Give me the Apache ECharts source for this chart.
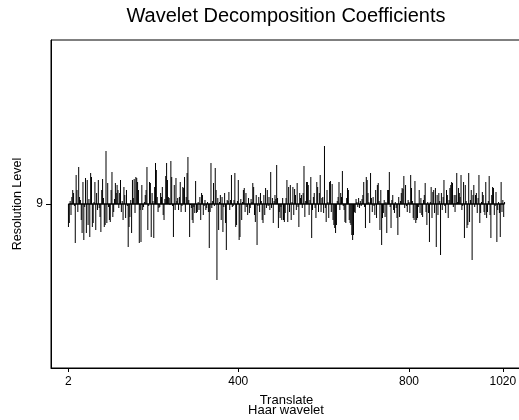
<!DOCTYPE html>
<html>
<head>
<meta charset="utf-8">
<script src="https://cdn.jsdelivr.net/npm/echarts@6/dist/echarts.min.js"></script>
<style>
  html, body { margin: 0; padding: 0; background: #fff; }
  #chart { width: 519px; height: 420px; }
</style>
</head>
<body>
<div id="chart"></div>
<script>
// level 9 Haar coefficients left to right (arbitrary units)
const coef1 = [-23,-19,3,-11,7,14,11,-2,-39,29, 14,-8,37,7,4,-16,-29,22,-36,-3,
  26,-29,24,-21,5,-33,31,27,-23,-19, 2,22,-26,11,-6,24,-4,-13,-28,14,
  25,6,-23,-21,53,-19,21,-3,-16,-18, 14,32,-13,-8,5,21,11,19,14,-4,
  11,24,-8,3,-16,17,9,-14,14,-2, -43,-23,-13,4,-29,24,6,25,-9,27, 26,22,14,-39,-6];
const coef2 = [-38,19,-6,-3,2,9,14,37,-26,-2, 22,21,-33,11,3,-34,17,41,34,7,
  -8,-4,-3,11,7,17,-11,-16,5,28, 41,24,7,6,-1,43,27,-2,-33,19,
  -6,26,3,6,-6,7,22,-8,-2,17, 16,27,-8,7,31,47,4,-33,-1,-4,
  -16,-19,-3,-9,23,-9,-8,2,-6,7, -16,11,9,-11,-2,4,-6,-4,2,-8, -44,-8,41,-4,3,21,-2];
const coef3 = [36,14,-76,6,-26,2,9,-16,7,-28, -3,11,-19,-46,4,3,12,-6,4,29,
  -3,-2,4,31,-23,-21,3,24,-36,-33, 5,-16,2,14,16,-8,11,-3,-11,6,
  -9,-4,5,2,21,17,-11,-18,9,-41, -2,7,-8,11,3,-16,-19,9,-11,16,
  -4,14,-2,7,-6,32,-4,6,-19,3, 9,5,39,6,-24,-8,-14,-3,-16,6, -16,-18,-9,6,24,-18,17];
const coef4 = [-8,19,-16,2,17,-11,15,9,-6,21, -3,-23,11,6,9,-4,11,38,-13,3,
  22,22,19,-11,4,27,-34,-6,7,11, -4,-14,22,17,-8,11,29,-8,6,7,
  -9,58,-4,-18,14,2,-14,22,23,-8, 20,-16,-21,-24,-29,-21,3,7,22,-6,
  11,7,33,-2,-6,-18,-19,6,16,14, -16,-19,-21,-31,-36,-31,-8,-9,5,2, -3,6,-4,3,-2,5];
const coef5 = [9,22,-3,-24,27,24,11,2,-19,31, 6,-8,7,-2,-11,14,-14,19,21,3,
  -26,14,-41,-14,-9,4,-13,2,-29,14, 14,32,-3,-24,4,9,-6,-9,2,-4,
  -14,-31,7,-13,3,11,16,15,28,-4, 19,-2,-8,4,2,-9,29,16,3,-14,
  -16,23,-19,-16,-14,-3,14,-9,6,-11, -13,4,9,21,-8,-21,2,-9,-38,2, 17,-14,12,14,-9,16,-43];
const coef6 = [9,-11,11,3,-51,11,-6,7,24,-2, -9,14,9,-14,4,16,19,22,21,-3,
  9,-8,9,31,2,16,11,7,29,-6, -2,22,-34,19,3,-24,-21,31,-18,4,
  14,-56,9,19,-3,9,11,-9,6,29, -19,-9,2,12,9,-8,-11,22,-14,-8,
  3,28,-11,-34,9,17,16,-11,-2,12, -38,-6,2,-9,-33,22,-8,4,-13,2];

const level = 9;
const levelScale = 1 / 164;   // coefficient units per resolution level
const xTicks = [2, 400, 800, 1020];
const yTicks = [9];

const coefs = [].concat(coef1, coef2, coef3, coef4, coef5, coef6);
// translate of coefficient k at level 9 is 2k
const points = coefs.map((c, i) => [2 * (i + 1), level + c * levelScale]);
const firstT = points[0][0], lastT = points[points.length - 1][0];

const font = 'Liberation Sans, Arial, Helvetica, sans-serif';

function renderItem(params, api) {
    const x = api.value(0);
    const p0 = api.coord([x, level]);
    const p1 = api.coord([x, api.value(1)]);
    return {
        type: 'line',
        shape: {x1: p0[0], y1: p0[1], x2: p1[0], y2: p1[1]},
        style: {stroke: '#000', lineWidth: 1}
    };
}

const chart = echarts.init(document.getElementById('chart'), null, {renderer: 'canvas'});
chart.setOption({
    animation: false,
    backgroundColor: '#fff',
    title: [{
        text: 'Wavelet Decomposition Coefficients',
        left: 286, top: 6, textAlign: 'center', padding: 0,
        textStyle: {fontFamily: font, fontSize: 20, fontWeight: 'normal', color: '#000'}
    }, {
        text: 'Haar wavelet',
        left: 286, top: 404, textAlign: 'center', padding: 0,
        textStyle: {fontFamily: font, fontSize: 13, fontWeight: 'normal', color: '#000'}
    }],
    grid: {
        left: 51, width: 471, top: 40, bottom: 52,
        outerBoundsMode: 'none', containLabel: false,
        show: true, borderColor: '#000', borderWidth: 1
    },
    xAxis: {
        type: 'value', min: -38.9, max: 1064.9,
        name: 'Translate', nameLocation: 'middle', nameGap: 26,
        nameTextStyle: {fontFamily: font, fontSize: 13, color: '#000'},
        axisLine: {show: true, onZero: false, lineStyle: {color: '#000', width: 1}},
        axisTick: {show: true, length: 4, customValues: xTicks, lineStyle: {color: '#000'}},
        axisLabel: {customValues: xTicks, formatter: (v) => String(v),
            fontFamily: font, fontSize: 12, color: '#000', margin: 8},
        splitLine: {show: false}
    },
    yAxis: {
        type: 'value', min: 8, max: 10,
        name: 'Resolution Level', nameLocation: 'middle', nameGap: 27,
        nameTextStyle: {fontFamily: font, fontSize: 12.5, color: '#000'},
        axisLine: {show: true, onZero: false, lineStyle: {color: '#000', width: 1}},
        axisTick: {show: true, length: 5, customValues: yTicks, lineStyle: {color: '#000'}},
        axisLabel: {customValues: yTicks, fontFamily: font, fontSize: 12, color: '#000', margin: 8},
        splitLine: {show: false}
    },
    series: [{
        type: 'line',
        data: [[firstT, level], [lastT, level]],
        symbol: 'none',
        lineStyle: {color: '#000', width: 1.5},
        silent: true
    }, {
        type: 'custom',
        renderItem: renderItem,
        data: points,
        clip: true,
        silent: true
    }]
});
</script>
</body>
</html>
